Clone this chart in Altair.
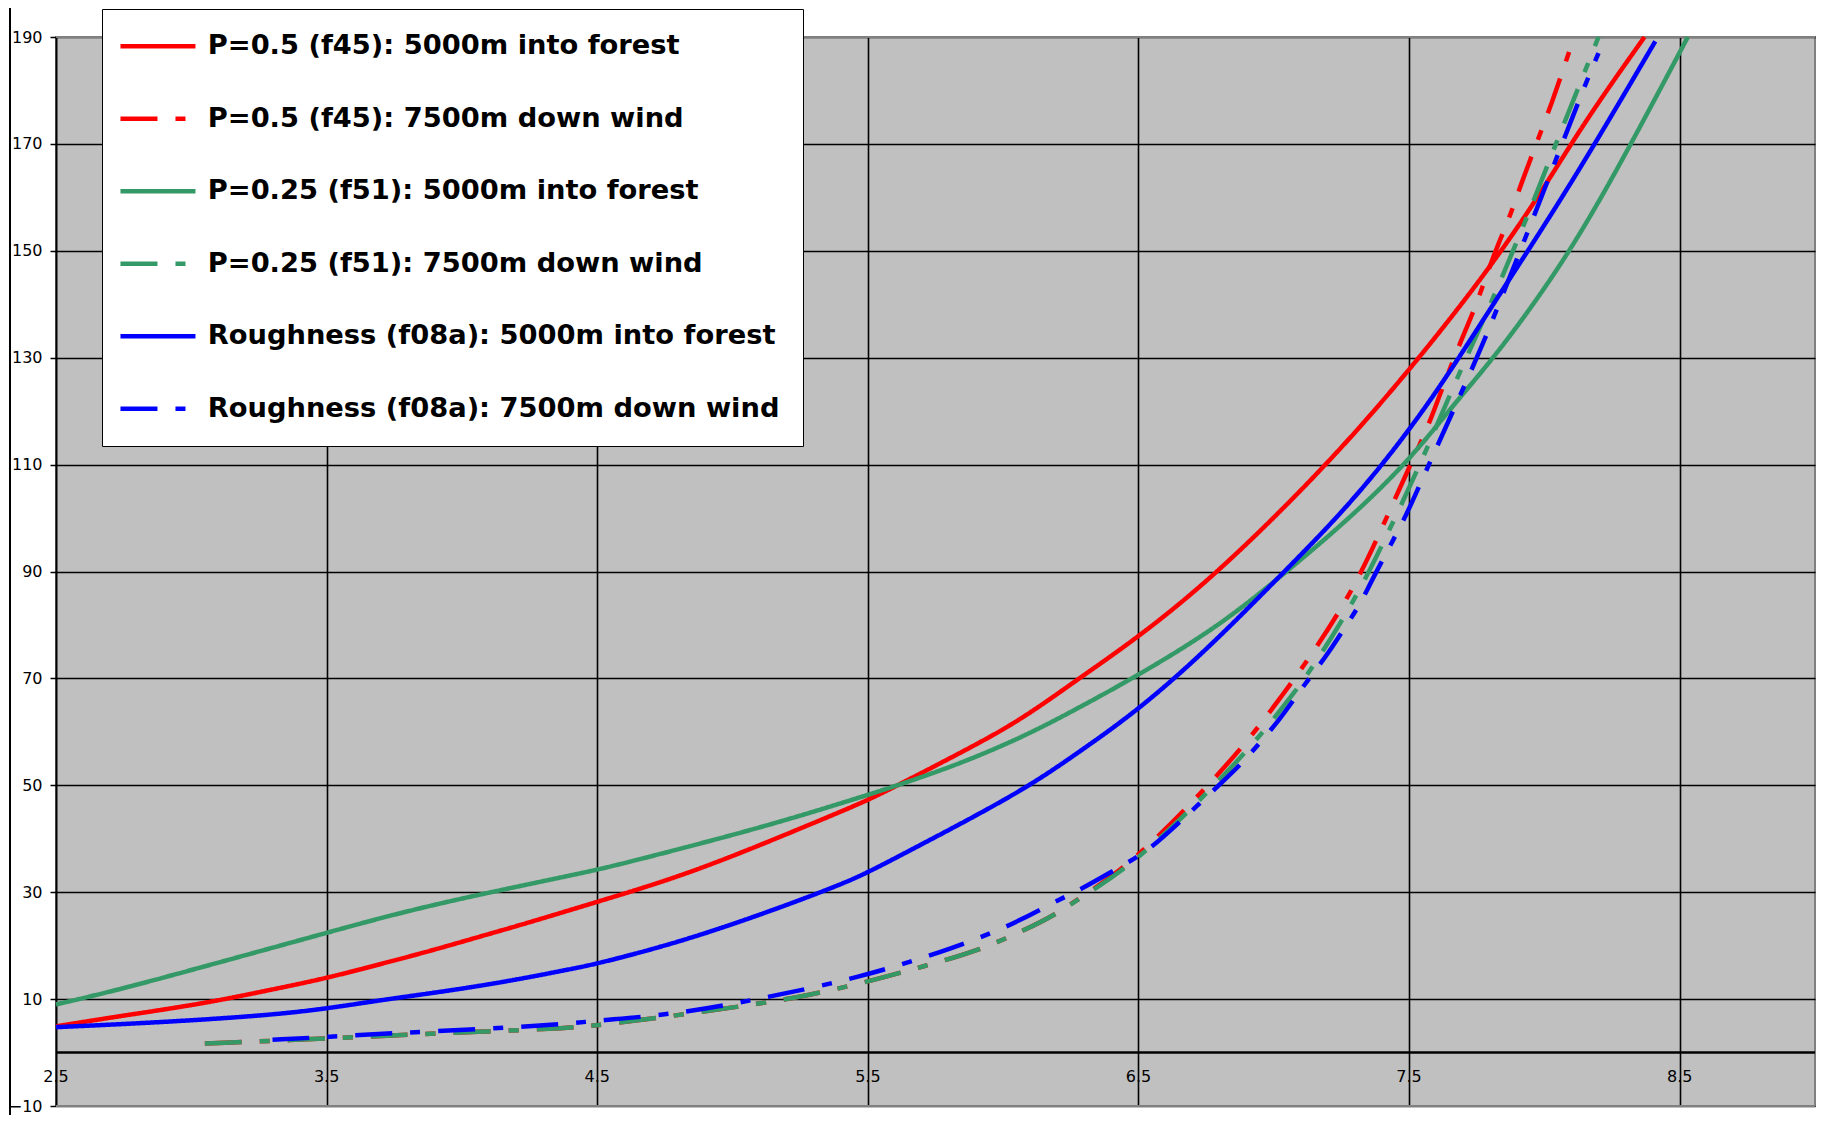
import altair as alt
import pandas as pd

# ---------------- data ----------------
series_names = [
    "P=0.5 (f45): 5000m into forest",
    "P=0.5 (f45): 7500m down wind",
    "P=0.25 (f51): 5000m into forest",
    "P=0.25 (f51): 7500m down wind",
    "Roughness (f08a): 5000m into forest",
    "Roughness (f08a): 7500m down wind",
]
series_colors = ["#FF0000", "#FF0000", "#339966", "#339966", "#0000FF", "#0000FF"]
series_dash = [[1, 0], [37, 18, 10, 18], [1, 0], [37, 18, 10, 18], [1, 0], [37, 18, 10, 18]]

red_solid_x = [2.5, 2.72, 3.04, 3.29, 3.5, 3.71, 3.89, 4.08, 4.24, 4.5, 4.78, 5.05, 5.34, 5.5,
               5.61, 5.84, 6.06, 6.28, 6.5, 6.79, 7.19, 7.5, 7.78, 7.97, 8.15, 8.37]
red_solid_y = [4.9, 6.7, 9.1, 11.7, 13.9, 16.7, 19.1, 21.9, 24.2, 28.2, 32.5, 37.7, 43.8, 47.2,
               50.0, 56.0, 62.0, 70.0, 77.7, 89.5, 109.5, 127.5, 145.5, 159.4, 174.3, 190.0]

red_dash_x = [3.05, 3.5, 3.77, 4.08, 4.4, 4.5, 4.79, 5.12, 5.27, 5.5, 5.71, 5.9, 6.08, 6.2, 6.28,
              6.45, 6.69, 6.91, 7.04, 7.1, 7.28, 7.4, 7.5, 7.57, 7.62, 7.69, 7.75, 7.81, 7.87,
              7.91, 7.97, 8.03, 8.07, 8.11]
red_dash_y = [1.7, 2.6, 3.3, 3.9, 4.6, 5.1, 6.9, 9.3, 10.6, 13.2, 16.2, 18.9, 22.9, 26.0, 28.8,
              34.4, 46.2, 58.5, 67.5, 71.5, 85.1, 98.1, 109.5, 117.0, 124.0, 133.0, 140.0, 149.0, 156.0,
              162.0, 170.0, 178.0, 184.0, 190.0]

green_solid_x = [2.5, 2.72, 3.02, 3.5, 3.73, 3.96, 4.2, 4.36, 4.5, 4.63, 4.95, 5.22, 5.5, 5.61,
                 5.84, 6.08, 6.28, 6.5, 6.79, 7.03, 7.28, 7.5, 7.68, 7.83, 8.1, 8.34, 8.53]
green_solid_y = [9.0, 11.6, 15.7, 22.4, 25.6, 28.4, 31.0, 32.7, 34.2, 35.8, 40.0, 43.8, 48.2, 50.0,
                 54.0, 59.2, 64.5, 70.6, 79.5, 89.2, 99.9, 110.7, 122.2, 130.9, 149.8, 171.8, 190.0]

green_dash_x = [3.05, 3.5, 3.77, 4.08, 4.4, 4.5, 4.79, 5.12, 5.27, 5.5, 5.71, 5.9, 6.08, 6.2, 6.28,
                6.46, 6.71, 6.94, 7.07, 7.13, 7.3, 7.43, 7.54, 7.6, 7.68, 7.81, 7.88, 7.95, 8.05,
                8.15, 8.2]
green_dash_y = [1.7, 2.6, 3.3, 3.9, 4.6, 5.1, 6.9, 9.3, 10.6, 13.2, 16.2, 18.9, 22.9, 26.0, 28.8,
                34.4, 46.2, 58.5, 67.0, 71.0, 84.5, 98.0, 110.0, 117.0, 126.5, 141.0, 149.5, 158.0, 171.0,
                183.6, 190.0]

blue_solid_x = [2.5, 2.87, 3.27, 3.5, 3.71, 3.96, 4.2, 4.4, 4.5, 4.8, 5.1, 5.39, 5.5, 5.64, 5.9,
                6.11, 6.28, 6.5, 6.75, 7.03, 7.28, 7.5, 7.66, 7.86, 8.1, 8.41]
blue_solid_y = [4.75, 5.6, 6.9, 8.2, 9.9, 11.6, 13.6, 15.6, 16.6, 20.6, 25.7, 31.2, 33.7, 37.4, 44.3,
                50.3, 56.2, 64.1, 75.2, 89.5, 102.4, 116.3, 128.0, 143.9, 162.5, 189.2]

blue_dash_x = [3.3, 3.5, 3.77, 4.08, 4.4, 4.5, 4.78, 5.1, 5.47, 5.78, 6.02, 6.2, 6.28, 6.42,
               6.53, 6.64, 6.82, 6.9, 7.03, 7.08, 7.14, 7.2, 7.27, 7.32, 7.36, 7.48, 7.52, 7.56,
               7.6, 7.64, 7.68, 7.76, 7.84, 7.95, 8.05, 8.15, 8.2]
blue_dash_y = [2.4, 2.9, 3.7, 4.4, 5.4, 6.0, 7.1, 10.0, 14.0, 18.9, 23.5, 28.5, 30.3, 34.4,
               37.5, 42.5, 51.1, 55.0, 62.8, 66.5, 70.6, 74.6, 80.1, 83.9, 88.2, 99.5, 104.0, 108.5,
               113.0, 117.5, 122.0, 131.0, 141.0, 155.0, 168.0, 181.0, 187.0]

x_tick_values = [2.5, 3.5, 4.5, 5.5, 6.5, 7.5, 8.5]
x_tick_labels = ["2.5", "3.5", "4.5", "5.5", "6.5", "7.5", "8.5"]
y_tick_values = [-10, 10, 30, 50, 70, 90, 110, 130, 150, 170, 190]
y_frame_values = [-10, 190]

# ---------------- build tables ----------------
all_x = [red_solid_x, red_dash_x, green_solid_x, green_dash_x, blue_solid_x, blue_dash_x]
all_y = [red_solid_y, red_dash_y, green_solid_y, green_dash_y, blue_solid_y, blue_dash_y]
rows = []
for name, xs, ys in zip(series_names, all_x, all_y):
    for i, (xv, yv) in enumerate(zip(xs, ys)):
        rows.append({"x": xv, "y": yv, "series": name, "idx": i})
df = pd.DataFrame(rows)

xscale = alt.Scale(domain=[2.5, 9.0], nice=False, zero=False)
yscale = alt.Scale(domain=[-10, 190], nice=False, zero=False)

x_axis = alt.Axis(values=x_tick_values[1:], grid=True, labels=False, ticks=False,
                  domain=False, title=None, gridColor="#000000", gridWidth=1.6, gridOpacity=1)
y_axis = alt.Axis(values=y_tick_values, grid=True, title=None, gridColor="#000000",
                  gridWidth=1.6, gridOpacity=1, domainColor="#000000", domainWidth=2,
                  tickColor="#000000", tickWidth=1.5, tickSize=6, labelPadding=8,
                  labelFont="DejaVu Sans", labelFontSize=16, labelColor="#000000")

lines = alt.Chart(df).mark_line(strokeWidth=4.5, interpolate="basis").encode(
    x=alt.X("x:Q", scale=xscale, axis=x_axis),
    y=alt.Y("y:Q", scale=yscale, axis=y_axis),
    color=alt.Color("series:N", scale=alt.Scale(domain=series_names, range=series_colors),
                    legend=alt.Legend(title=None)),
    strokeDash=alt.StrokeDash("series:N", scale=alt.Scale(domain=series_names, range=series_dash),
                              legend=alt.Legend(title=None)),
    order="idx:Q",
)

# gray frame lines at the top and bottom of the plot area
frame_df = pd.DataFrame({"y": y_frame_values})
frame_rules = alt.Chart(frame_df).mark_rule(color="#808080", strokeWidth=2.2).encode(
    y=alt.Y("y:Q", scale=yscale, axis=y_axis)
)

zero_df = pd.DataFrame({"y": [0]})
zero_rule = alt.Chart(zero_df).mark_rule(color="#000000", strokeWidth=2.5).encode(
    y=alt.Y("y:Q", scale=yscale, axis=y_axis)
)

lab_df = pd.DataFrame({"x": x_tick_values, "lab": x_tick_labels, "y": [0] * len(x_tick_values)})
xlabels = alt.Chart(lab_df).mark_text(
    font="DejaVu Sans", fontSize=16, color="#000000", dy=24, align="center", baseline="middle"
).encode(
    x=alt.X("x:Q", scale=xscale, axis=x_axis),
    y=alt.Y("y:Q", scale=yscale, axis=y_axis),
    text="lab:N",
)

border = alt.Chart(zero_df).mark_rule(color="#000000", strokeWidth=2).encode(
    x=alt.value(-46), y=alt.value(-29), y2=alt.value(1078)
)

chart = alt.layer(frame_rules, zero_rule, lines, xlabels, border).properties(
    width=1759, height=1069,
    autosize=alt.AutoSizeParams(type="none"),
    padding={"left": 48, "top": 29, "right": 10, "bottom": 9},
    background="#FFFFFF",
).configure_view(
    fill="#C0C0C0", stroke="#808080", strokeWidth=2
).configure_legend(
    orient="none", legendX=46, legendY=-28,
    fillColor="#FFFFFF", strokeColor="#000000", padding=23.5,
    symbolType="M-1.992,0H6.008", symbolSize=351.6, symbolStrokeWidth=4.5,
    labelFont="DejaVu Sans", labelFontSize=27.3, labelFontWeight="bold", labelColor="#000000",
    labelOffset=54.95, rowPadding=44.5, labelLimit=1000,
)

chart.save("out.html", embed_options={"renderer": "svg", "actions": False})
